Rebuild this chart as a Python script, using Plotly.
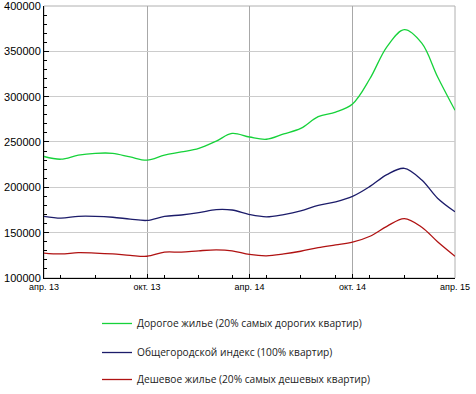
import plotly.graph_objects as go

months = ["2013-04-01", "2013-05-01", "2013-06-01", "2013-07-01", "2013-08-01", "2013-09-01",
          "2013-10-01", "2013-11-01", "2013-12-01", "2014-01-01", "2014-02-01", "2014-03-01",
          "2014-04-01", "2014-05-01", "2014-06-01", "2014-07-01", "2014-08-01", "2014-09-01",
          "2014-10-01", "2014-11-01", "2014-12-01", "2015-01-01", "2015-02-01", "2015-03-01",
          "2015-04-01"]

expensive = [234000, 231000, 235500, 237500, 237500, 233500, 230000, 235500, 239000, 243000,
             251000, 259500, 255500, 253000, 259000, 265000, 278000, 283000, 292000, 320000,
             355000, 374000, 359000, 322000, 285000]
citywide = [168000, 166000, 168000, 168000, 167000, 165000, 163500, 168000, 169500, 172000,
            175500, 175000, 170000, 167500, 170000, 174000, 180000, 184000, 190000, 201000,
            214000, 221000, 208000, 188000, 173000]
cheap = [127500, 126500, 128000, 127500, 126500, 125000, 124000, 128500, 128500, 130000,
         131000, 130000, 126000, 124500, 126500, 129500, 133500, 136500, 139500, 146000,
         157000, 165500, 156000, 140000, 124000]

names = ["Дорогое жилье (20% самых дорогих квартир)",
         "Общегородской индекс (100% квартир)",
         "Дешевое жилье (20% самых дешевых квартир)"]
colors = ["#16d23a", "#1c1c6a", "#b01212"]

x_tick_vals = ["2013-04-01", "2013-10-01", "2014-04-01", "2014-10-01", "2015-04-01"]
x_tick_text = ["апр. 13", "окт. 13", "апр. 14", "окт. 14", "апр. 15"]
y_tick_vals = [100000, 150000, 200000, 250000, 300000, 350000, 400000]
y_tick_text = ["100000", "150000", "200000", "250000", "300000", "350000", "400000"]

legend_ids = ["legend", "legend2", "legend3"]

fig = go.Figure()
for series, name, color, lid in zip([expensive, citywide, cheap], names, colors, legend_ids):
    fig.add_trace(go.Scatter(
        x=months, y=series, name=name, mode="lines",
        line=dict(color=color, width=1.3, shape="spline", smoothing=1.0),
        legend=lid,
    ))

legend_style = dict(
    x=0.129, xanchor="left",
    font=dict(family="Open Sans, sans-serif", size=10.2, color="#222222"),
    itemwidth=30, bgcolor="rgba(0,0,0,0)",
)

fig.update_layout(
    width=476, height=394,
    margin=dict(l=44, r=21, t=6, b=0),
    paper_bgcolor="white", plot_bgcolor="white",
    font=dict(family="Liberation Sans, Arial, sans-serif", color="#000000"),
    showlegend=True,
    legend=dict(y=0.2191, yanchor="top", **legend_style),
    legend2=dict(y=0.1443, yanchor="top", **legend_style),
    legend3=dict(y=0.0, yanchor="bottom", **legend_style),
    shapes=[dict(type="rect", xref="x domain", yref="y domain", x0=0, x1=1, y0=0, y1=1,
                 line=dict(color="#b0b0b0", width=1), layer="below")],
)

fig.update_xaxes(
    type="date", range=["2013-04-01", "2015-04-01"],
    tickvals=x_tick_vals, ticktext=x_tick_text,
    tickfont=dict(size=9, family="Liberation Sans, Arial, sans-serif"),
    automargin=False,
    showgrid=True, gridcolor="#a8a8a8", gridwidth=1,
    showline=True, linecolor="#000000", linewidth=1,
    ticks="inside", ticklen=4, tickcolor="#000000",
    minor=dict(dtick="M2", ticks="inside", ticklen=3, tickcolor="#000000", showgrid=False),
    zeroline=False,
)
fig.update_yaxes(
    domain=[0.299, 1.0],
    range=[100000, 400000], tickvals=y_tick_vals, ticktext=y_tick_text,
    tickfont=dict(size=11, family="Liberation Sans, Arial, sans-serif"),
    ticklabeloverflow="allow", automargin=False,
    showgrid=True, gridcolor="#cccccc", gridwidth=1,
    showline=True, linecolor="#000000", linewidth=1,
    ticks="inside", ticklen=5, tickcolor="#000000",
    minor=dict(dtick=10000, ticks="inside", ticklen=3, tickcolor="#000000", showgrid=False),
    zeroline=False,
)

fig.write_html("out.html", config={"displayModeBar": False})

with open("out.html", "r", encoding="utf-8") as f:
    html = f.read()
html = html.replace("<head>", "<head><style>html,body{margin:0;padding:0;}</style>", 1)
with open("out.html", "w", encoding="utf-8") as f:
    f.write(html)
